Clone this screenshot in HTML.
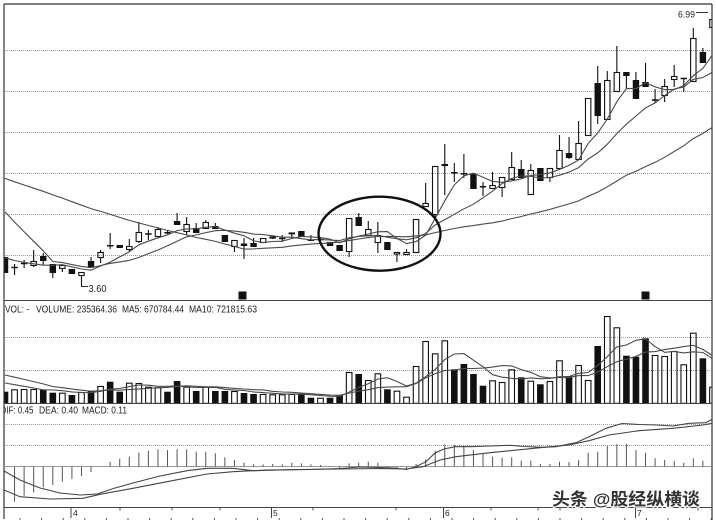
<!DOCTYPE html>
<html><head><meta charset="utf-8">
<style>
html,body{margin:0;padding:0;background:#fff;}
svg{display:block;}
text{font-family:"Liberation Sans",Arial,sans-serif;fill:#222;}
</style></head>
<body>
<svg id="s" width="716" height="523" viewBox="0 0 716 523" xmlns="http://www.w3.org/2000/svg">
<defs>
<clipPath id="cp"><rect x="4.5" y="4.5" width="707" height="295"/></clipPath>
<clipPath id="cv"><rect x="4.5" y="300.5" width="707" height="103"/></clipPath>
<clipPath id="cm"><rect x="4.5" y="404" width="707" height="102.5"/></clipPath>
<clipPath id="ct"><rect x="3.5" y="400" width="200" height="20"/></clipPath>
</defs>
<rect width="716" height="523" fill="#fff"/>
<g stroke="#9a9a9a" stroke-width="1" stroke-dasharray="1,1" fill="none">
<line x1="5" y1="50.5" x2="711" y2="50.5"/>
<line x1="5" y1="91.5" x2="711" y2="91.5"/>
<line x1="5" y1="132.5" x2="711" y2="132.5"/>
<line x1="5" y1="173.5" x2="711" y2="173.5"/>
<line x1="5" y1="214.5" x2="711" y2="214.5"/>
<line x1="5" y1="255.5" x2="711" y2="255.5"/>
<line x1="5" y1="337.5" x2="711" y2="337.5"/>
<line x1="5" y1="370.5" x2="711" y2="370.5"/>
<line x1="5" y1="424.5" x2="711" y2="424.5"/>
<line x1="5" y1="445.5" x2="711" y2="445.5"/>
</g>
<line x1="5" y1="466.5" x2="711" y2="466.5" stroke="#999" stroke-width="1"/>
<g id="price" clip-path="url(#cp)"></g>
<g id="vol" clip-path="url(#cv)"></g>
<g id="macd" clip-path="url(#cm)"></g>

<!-- markers -->
<rect x="238.5" y="291.5" width="8" height="8" fill="#111"/>
<rect x="641.5" y="291.5" width="8" height="8" fill="#111"/>

<!-- ellipse -->
<ellipse cx="379.5" cy="233.7" rx="61" ry="37" fill="none" stroke="#111" stroke-width="2.4"/>

<!-- annotations -->
<line x1="81" y1="286.5" x2="88" y2="286.5" stroke="#333" stroke-width="1"/>
<text x="88.5" y="292" font-size="10" textLength="18" lengthAdjust="spacingAndGlyphs">3.60</text>
<line x1="696" y1="12.5" x2="708" y2="12.5" stroke="#333" stroke-width="1"/>
<text x="678" y="17.5" font-size="9" textLength="17" lengthAdjust="spacingAndGlyphs">6.99</text>

<!-- borders -->
<g stroke="#333" stroke-width="1.2" fill="none">
<line x1="4" y1="4" x2="712" y2="4"/>
<line x1="4" y1="4" x2="4" y2="519"/>
<line x1="712" y1="4" x2="712" y2="520"/>
</g>
<g stroke="#444" stroke-width="1" fill="none">
<line x1="4" y1="300.5" x2="712" y2="300.5"/>
<line x1="4" y1="403.5" x2="712" y2="403.5"/>
<line x1="4" y1="507.5" x2="712" y2="507.5"/>
<line x1="71" y1="507" x2="71" y2="518"/>
<line x1="271.5" y1="507" x2="271.5" y2="518"/>
<line x1="443.5" y1="507" x2="443.5" y2="518"/>
<line x1="635.5" y1="507" x2="635.5" y2="518"/>
</g>
<g id="ticks" stroke="#555" stroke-width="1"></g>

<!-- panel titles -->
<text x="5" y="312.5" font-size="10" textLength="24" lengthAdjust="spacingAndGlyphs">VOL: -</text>
<text x="36" y="312.5" font-size="10" textLength="81" lengthAdjust="spacingAndGlyphs">VOLUME: 235364.36</text>
<text x="122" y="312.5" font-size="10" textLength="62" lengthAdjust="spacingAndGlyphs">MA5: 670784.44</text>
<text x="189" y="312.5" font-size="10" textLength="68" lengthAdjust="spacingAndGlyphs">MA10: 721815.63</text>
<g clip-path="url(#ct)">
<text x="0.5" y="413.5" font-size="10" textLength="33" lengthAdjust="spacingAndGlyphs">DIF: 0.45</text>
</g>
<text x="39" y="413.5" font-size="10" textLength="39" lengthAdjust="spacingAndGlyphs">DEA: 0.40</text>
<text x="82" y="413.5" font-size="10" textLength="45" lengthAdjust="spacingAndGlyphs">MACD: 0.11</text>

<!-- axis labels -->
<text x="73" y="516" font-size="8.5">4</text>
<text x="273" y="516" font-size="8.5">5</text>
<text x="445" y="516" font-size="8.5">6</text>
<text x="637" y="516" font-size="8.5">7</text>

<!-- watermark -->
<text x="552" y="505" font-size="17" font-weight="bold" textLength="148" lengthAdjust="spacingAndGlyphs" style="font-family:'Liberation Sans','Noto Sans CJK SC',sans-serif;fill:#333;stroke:#fff;stroke-width:2.5;paint-order:stroke;">头条 @股经纵横谈</text>
</svg>
<script>
(function(){
const NS="http://www.w3.org/2000/svg";
function el(p,tag,a){const e=document.createElementNS(NS,tag);for(const k in a)e.setAttribute(k,a[k]);p.appendChild(e);return e;}
const X=i=>5+9.56*i;
const C=[
['b',257,273,257,273],['d',267,268,264,275],['d',263,264,260,268],['w',261,266,250,267],['b',256,261,253,265],
['b',264,273,264,278],['w',265,269,265,272],['b',269,274,269,274],['w',272,276,272,287],['b',261,267,257,267],
['w',252,258,250,263],['d',245,246.5,233,249],['b',245,248,245,248],['w',246,250,239,252],['w',232,242,222,243],
['d',233,235,230,240],['w',229,237,227,237],['d',232,233.5,230,234],['b',221,225,213,225],['w',224,232,217,235],
['b',228,233,223,233],['w',222,229,220,229],['b',226,229,223,229],['b',235,242,235,242],['w',240,247,240,252],
['b',243.5,246,238,259],['b',243,247,238,247],['w',238,243,238,243],['w',236.5,238.5,236.5,239],['d',238,239,235,242],
['w',232.5,234,232.5,238],['b',231,237,231,237],['d',240,240.5,235,240.5],['d',239,240,237,242],['b',242,246,242,246],
['b',245,251,245,251],['w',218,252,218,257],['b',217,226,213,226],['w',229,236,221,236],['w',235,243,222,253],
['b',242,250,242,250],['w',252,254.5,252,262],['w',252,255,249,255],['w',219,253,219,253],['w',203,207,183,207],
['w',166,215,166,217],['w',164,166,144,195],['d',172,173.5,163,182],['d',173,174.5,154,178],['b',174,189,174,189],
['d',186,187.5,182,196],['w',185,189,172,189],['w',177,188,177,197],['w',167,180,152,180],['b',169,178,160,178],
['w',170,195,164,195],['b',168,181,168,181],['w',168,178,168,182],['w',150,169,135,169],['b',153,158,137,159],
['w',143,160,121,160],['w',98,136,98,136],['b',83,116,66,124],['w',80,120,71,120],['w',72,92,46,92],
['b',72,76,72,88],['b',80,99,72,99],['b',82,87,63,87],['d',99.5,100.5,89,103],['w',86,96,79,102],
['w',76,80,65,87],['d',78,79,78,92],['w',38,82,28,82],['b',52,63,48,63],['w',19,28,10,28]
];
const gp=document.getElementById('price');
const w=6.4;
const cl=C.map(c=>c[0]==='w'?c[1]:c[0]==='b'?c[2]:(c[1]+c[2])/2);
const H=[].concat(Array(10).fill(166.6),Array(10).fill(156.8),Array(5).fill(166),Array(4).fill(254));
const all=H.concat(cl);
function ma(arr,off,n,i){let s=0;for(let k=0;k<n;k++)s+=arr[off+i-k];return s/n;}
C.forEach((c,i)=>{
 const x=X(i),t=c[0],top=c[1],bot=c[2],hi=c[3],lo=c[4],xl=x-w/2;
 if(t==='d'){
  el(gp,'line',{x1:x,y1:hi,x2:x,y2:lo,stroke:'#111','stroke-width':1.1});
  const m=(top+bot)/2;
  el(gp,'line',{x1:xl,y1:m,x2:xl+w,y2:m,stroke:'#111','stroke-width':1.5});
 } else if(t==='b'){
  el(gp,'line',{x1:x,y1:hi,x2:x,y2:lo,stroke:'#111','stroke-width':1.1});
  el(gp,'rect',{x:xl,y:top,width:w,height:Math.max(bot-top,1.2),fill:'#111'});
 } else {
  if(hi<top) el(gp,'line',{x1:x,y1:hi,x2:x,y2:top,stroke:'#111','stroke-width':1.1});
  if(lo>bot) el(gp,'line',{x1:x,y1:bot,x2:x,y2:lo,stroke:'#111','stroke-width':1.1});
  el(gp,'rect',{x:xl+0.5,y:top+0.5,width:w-1,height:Math.max(bot-top-1,0.8),fill:'none',stroke:'#111','stroke-width':1.1});
 }
});
[5,10,30].forEach(n=>{
 const pts=cl.map((_,i)=>X(i).toFixed(1)+','+ma(all,29,n,i).toFixed(1)).join(' ');
 el(gp,'polyline',{points:pts,fill:'none',stroke:'#4a4a4a','stroke-width':1.1});
});
// volume
const V=[391.7,389.3,389,389,390,392.7,392.7,395,392,391,
386,381.7,391.7,382.7,383,386.7,387.3,391.7,381,386.7,
391,386.7,391,391,391,393,394,394,394.3,394.3,
394,393.7,397.7,397.7,397.7,395.5,372,374,380,373.3,
389.3,390.7,396.7,366,341,353.3,340.3,369.3,364,374,
385.7,380.3,382,369.3,377.3,380.7,384.3,381,360.3,376,
365,380,346,316,327.3,355.7,356.7,338.3,355,356,
351,364.3,332.7,358.3,386.7];
const VC="bwwwbbwbwb"+"wbbwwwwbbw"+"bwbbwbbwww"+"wbbwbbwbww"+"bwwwwwwbbb"+"bwwwbwbwwb"+"wwbwwbbbww"+"wwwbw";
const gv=document.getElementById('vol');
const B=403.3;
V.forEach((v,i)=>{
 const x=X(i);
 if(VC[i]==='b') el(gv,'rect',{x:x-3.3,y:v,width:6.6,height:B-v,fill:'#111'});
 else el(gv,'rect',{x:x-2.8,y:v+0.5,width:5.6,height:B-v-0.5,fill:'none',stroke:'#111','stroke-width':1.1});
});
const VH=[].concat(Array(5).fill(367),Array(4).fill(380.8));
const allV=VH.concat(V);
[5,10].forEach(n=>{
 const pts=V.map((_,i)=>X(i).toFixed(1)+','+ma(allV,9,n,i).toFixed(1)).join(' ');
 el(gv,'polyline',{points:pts,fill:'none',stroke:'#4a4a4a','stroke-width':1.1});
});
// macd
const M=[466.7,501.7,495.7,492.3,487.3,485,481.7,479,476,472,
466.7,461.7,458.7,456.7,452.7,450.7,449.3,450,449.3,449.3,
451.7,451.7,453.3,457.3,460,462.7,464.3,464.3,464,464.3,
462.7,463.3,464.3,465,466,468,463.3,462.7,461.7,462.7,
466,468,469,464,459.3,450.7,444.3,445,445.7,450,
453.3,456.7,457.7,457.3,460.7,460.7,464,464,461.7,462,
460,452.7,451.7,446,444,444,450,452.7,458.3,460,
461,462.7,458.3,460.7];
const gm=document.getElementById('macd');
M.forEach((m,i)=>{ if(Math.abs(m-466.7)>0.3) el(gm,'line',{x1:X(i),y1:466.7,x2:X(i),y2:m,stroke:'#555','stroke-width':1}); });
const DIF=[[4,471],[20,480],[40,488],[60,493],[80,495],[97,494],[115,488],[133,483],[160,476],[187,470.7],[207,468.3],[233,468.3],[253,470.7],[280,470],[310,469.5],[340,468.5],[360,467],[380,467.5],[395,468],[406,469.5],[415,467],[426,461.7],[435,453],[444,449],[455,446.7],[470,446.7],[490,446],[510,445.3],[525,446.5],[543,447.3],[556,446.7],[576,442.7],[589,436.7],[606,428.3],[622,423.5],[639,424.5],[656,425],[673,426],[689,423.3],[706,422.7],[712,419.3]];
const DEA=[[4,490],[20,496.7],[50,499],[83,498.3],[100,494.3],[133,488.3],[167,481.7],[207,474],[233,471.7],[267,470],[300,469.5],[340,469],[380,468.5],[406,469],[423,466.7],[440,460],[456,456.7],[490,452.7],[540,447.7],[569,445],[589,440.7],[609,435],[639,430.7],[673,428.3],[703,425],[712,423.3]];
[DIF,DEA].forEach(a=>el(gm,'polyline',{points:a.map(p=>p.join(',')).join(' '),fill:'none',stroke:'#444','stroke-width':1.1}));
// ticks
const gt=document.getElementById('ticks');
[120,172,220,313,396,491,538,560,698].forEach(x=>el(gt,'line',{x1:x,y1:508,x2:x,y2:510.5}));
for(let x=20;x<712;x+=21.6) el(gt,'line',{x1:x.toFixed(1),y1:518,x2:x.toFixed(1),y2:520});
})();
</script>
</body></html>
